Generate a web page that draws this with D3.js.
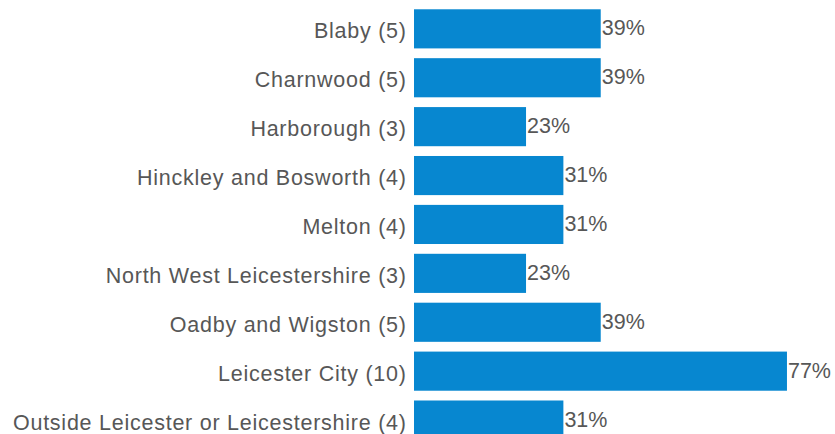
<!DOCTYPE html>
<html>
<head>
<meta charset="utf-8">
<script src="https://cdn.jsdelivr.net/npm/d3@7/dist/d3.min.js"></script>
<style>
  html, body { margin: 0; padding: 0; background: #fff; }
  svg { display: block; }
  text { font-family: Arial, "Liberation Sans", sans-serif; }
</style>
</head>
<body>
<svg id="chart" width="835" height="434"></svg>
<script>
const categories = [
  "Blaby (5)",
  "Charnwood (5)",
  "Harborough (3)",
  "Hinckley and Bosworth (4)",
  "Melton (4)",
  "North West Leicestershire (3)",
  "Oadby and Wigston (5)",
  "Leicester City (10)",
  "Outside Leicester or Leicestershire (4)"
];
const percentValues = [38.5, 38.5, 23.1, 30.8, 30.8, 23.1, 38.5, 76.9, 30.8];

const svg = d3.select("#chart");
const data = categories.map((c, i) => ({ cat: c, value: percentValues[i] }));

const x = d3.scaleLinear().domain([0, 100]).range([414, 899]);
const y = d3.scaleBand().domain(categories).range([-0.5, 449.4]).padding(0.2);

const barColor = "#0787d0";
const textColor = "#575757";

svg.selectAll("rect.bar")
  .data(data)
  .join("rect")
  .attr("class", "bar")
  .attr("x", x(0))
  .attr("y", d => y(d.cat))
  .attr("width", d => x(d.value) - x(0))
  .attr("height", y.bandwidth())
  .attr("fill", barColor);

svg.selectAll("text.cat")
  .data(data)
  .join("text")
  .attr("class", "cat")
  .attr("x", 406.7)
  .attr("y", d => y(d.cat) + y.bandwidth() / 2 + 9.5)
  .attr("text-anchor", "end")
  .attr("font-size", "21.5px")
  .attr("letter-spacing", "0.75px")
  .attr("fill", textColor)
  .text(d => d.cat);

svg.selectAll("text.val")
  .data(data)
  .join("text")
  .attr("class", "val")
  .attr("x", d => x(d.value) + 1)
  .attr("y", d => y(d.cat) + y.bandwidth() / 2 + 6.5)
  .attr("font-size", "21.5px")
  .attr("fill", textColor)
  .text(d => Math.round(d.value) + "%");
</script>
</body>
</html>
